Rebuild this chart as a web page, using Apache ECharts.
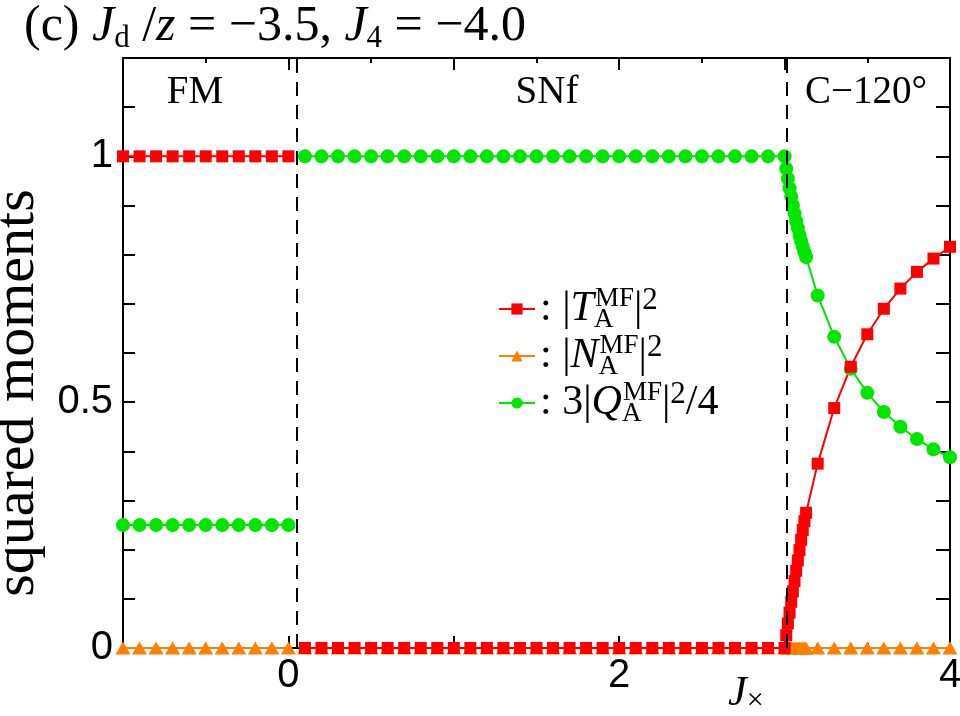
<!DOCTYPE html>
<html>
<head>
<meta charset="utf-8">
<script src="https://cdn.jsdelivr.net/npm/echarts@6/dist/echarts.min.js"></script>
<style>
html, body { margin: 0; padding: 0; background: #fff; }
#myChart { width: 960px; height: 716px; }
</style>
</head>
<body>
<div id="myChart"></div>
<script>
// J_x grid of each phase region
const jxFM = [-1, -0.9, -0.8, -0.7, -0.6, -0.5, -0.4, -0.3, -0.2, -0.1, 0];
const jxSNf = [0.1, 0.2, 0.3, 0.4, 0.5, 0.6, 0.7, 0.8, 0.9, 1.0,
               1.1, 1.2, 1.3, 1.4, 1.5, 1.6, 1.7, 1.8, 1.9, 2.0,
               2.1, 2.2, 2.3, 2.4, 2.5, 2.6, 2.7, 2.8, 2.9, 3.0];
const jxC = [3.01, 3.02, 3.03, 3.04, 3.05, 3.06, 3.07, 3.08, 3.09, 3.10, 3.11, 3.12, 3.13,
             3.2, 3.3, 3.4, 3.5, 3.6, 3.7, 3.8, 3.9, 4.0];

// |T_A^MF|^2
const tFM = [1, 1, 1, 1, 1, 1, 1, 1, 1, 1, 1];
const tSNf = [0, 0, 0, 0, 0, 0, 0, 0, 0, 0, 0, 0, 0, 0, 0, 0, 0, 0, 0, 0, 0, 0, 0, 0, 0, 0, 0, 0, 0, 0];
const tC = [0.026, 0.05, 0.072, 0.094, 0.115, 0.136, 0.157, 0.178, 0.199, 0.22, 0.24, 0.258, 0.275,
            0.375, 0.488, 0.572, 0.638, 0.690, 0.731, 0.765, 0.792, 0.816];

// |N_A^MF|^2
const nFM = [0, 0, 0, 0, 0, 0, 0, 0, 0, 0, 0];
const nSNf = [0, 0, 0, 0, 0, 0, 0, 0, 0, 0, 0, 0, 0, 0, 0, 0, 0, 0, 0, 0, 0, 0, 0, 0, 0, 0, 0, 0, 0, 0];
const nC = [0, 0, 0, 0, 0, 0, 0, 0, 0, 0, 0, 0, 0, 0, 0, 0, 0, 0, 0, 0, 0, 0];

// 3|Q_A^MF|^2/4
const qFM = [0.25, 0.25, 0.25, 0.25, 0.25, 0.25, 0.25, 0.25, 0.25, 0.25, 0.25];
const qSNf = [1, 1, 1, 1, 1, 1, 1, 1, 1, 1, 1, 1, 1, 1, 1, 1, 1, 1, 1, 1, 1, 1, 1, 1, 1, 1, 1, 1, 1, 1];
const qC = [0.975, 0.955, 0.935, 0.918, 0.9, 0.884, 0.868, 0.854, 0.84, 0.828, 0.816, 0.805, 0.795,
            0.717, 0.633, 0.568, 0.519, 0.480, 0.450, 0.425, 0.404, 0.388];

// phase boundaries (dashed lines)
const boundaries = [0.05, 3.01];
const xTickLabels = [0, 2, 4];
const yTickLabels = [0, 0.5, 1];

const SERIF = "'Liberation Serif','Times New Roman',serif";
const SANS = "'Liberation Sans',Arial,sans-serif";

function pairs(xs, ys) {
    return xs.map((x, i) => [x, ys[i]]);
}
function segments(fm, snf, c) {
    return pairs(jxFM, fm).concat(['-'], pairs(jxSNf, snf), pairs(jxC, c));
}

let myChart = echarts.init(document.getElementById('myChart'));

const axisCommon = {
    axisLine: { show: true, onZero: false, lineStyle: { color: '#000', width: 2 } },
    splitLine: { show: false }
};

const legendText = {
    T: '{c|: |}{it|T}{sb|A}{sp|MF}{c||}{sp2|2}',
    N: '{c|: |}{it|N}{sb|A}{sp|MF}{c||}{sp2|2}',
    Q: '{c|: 3|}{it|Q}{sb|A}{sp|MF}{c||}{sp2|2}{c|/4}'
};

myChart.setOption({
    animation: false,
    backgroundColor: '#fff',
    grid: { left: 123, right: 10, top: 58, bottom: 68, outerBoundsMode: 'none' },
    legend: {
        data: ['T', 'N', 'Q'],
        orient: 'vertical',
        left: 493,
        top: 280,
        itemWidth: 36,
        itemHeight: 14,
        itemGap: -1,
        formatter: name => legendText[name],
        textStyle: {
            color: '#000',
            rich: {
                c: { fontFamily: SERIF, fontSize: 42, lineHeight: 48 },
                it: { fontFamily: SERIF, fontSize: 42, fontStyle: 'italic', lineHeight: 48 },
                sb: { fontFamily: SERIF, fontSize: 27, lineHeight: 22, verticalAlign: 'bottom', width: 1 },
                sp: { fontFamily: SERIF, fontSize: 27, lineHeight: 26, verticalAlign: 'top' },
                sp2: { fontFamily: SERIF, fontSize: 31, lineHeight: 22, verticalAlign: 'top' }
            }
        }
    },
    xAxis: [
        Object.assign({
            type: 'value', position: 'bottom', min: -1, max: 4, interval: 1,
            axisTick: { show: true, inside: true, length: 12, lineStyle: { color: '#000', width: 2 } },
            minorTick: { show: true, splitNumber: 2, length: 5, lineStyle: { color: '#000', width: 2 } },
            axisLabel: {
                color: '#000', fontFamily: SANS, fontSize: 40, margin: 8,
                formatter: v => (xTickLabels.indexOf(v) >= 0 ? String(v) : '')
            }
        }, axisCommon),
        Object.assign({
            type: 'value', position: 'top', min: -1, max: 4, interval: 1,
            axisTick: { show: true, inside: true, length: 12, lineStyle: { color: '#000', width: 2 } },
            minorTick: { show: true, splitNumber: 2, length: 5, lineStyle: { color: '#000', width: 2 } },
            axisLabel: { show: false }
        }, axisCommon)
    ],
    yAxis: [
        Object.assign({
            type: 'value', position: 'left', min: 0, max: 1.2, interval: 0.1,
            name: 'squared moments',
            nameLocation: 'middle',
            nameGap: 64,
            nameTextStyle: { color: '#000', fontFamily: SERIF, fontSize: 58, padding: [0, 80, 0, 0] },
            axisTick: { show: true, inside: true, length: 12, lineStyle: { color: '#000', width: 2 } },
            axisLabel: {
                color: '#000', fontFamily: SANS, fontSize: 40, margin: 10,
                formatter: v => {
                    let hit = yTickLabels.find(t => Math.abs(t - v) < 1e-6);
                    return hit === undefined ? '' : String(hit);
                }
            }
        }, axisCommon),
        Object.assign({
            type: 'value', position: 'right', min: 0, max: 1.2, interval: 0.1,
            axisTick: { show: true, inside: true, length: 14, lineStyle: { color: '#000', width: 2 } },
            axisLabel: { show: false }
        }, axisCommon)
    ],
    series: [
        {
            name: 'Q',
            type: 'line',
            data: segments(qFM, qSNf, qC),
            connectNulls: false,
            symbol: 'circle',
            symbolSize: 14,
            color: '#00e600',
            lineStyle: { width: 2, color: '#00e600' },
            itemStyle: { color: '#00e600' }
        },
        {
            name: 'N',
            type: 'line',
            data: segments(nFM, nSNf, nC),
            connectNulls: false,
            symbol: 'triangle',
            symbolSize: [15, 13],
            color: '#ff8000',
            lineStyle: { width: 2, color: '#ff8000' },
            itemStyle: { color: '#ff8000' }
        },
        {
            name: 'T',
            type: 'line',
            data: segments(tFM, tSNf, tC),
            connectNulls: false,
            symbol: 'rect',
            symbolSize: 12,
            color: '#ff0000',
            lineStyle: { width: 2, color: '#ff0000' },
            itemStyle: { color: '#ff0000' },
            markLine: {
                silent: true,
                symbol: 'none',
                label: { show: false },
                lineStyle: { color: '#000', width: 2, type: [14, 9] },
                data: boundaries.map(b => ({ xAxis: b }))
            }
        }
    ],
    graphic: [
        {
            type: 'text', x: 24, y: 27,
            style: {
                text: '{r|(c) }{i|J}{s|d}{r| /}{i|z}{r| = −3.5, }{i|J}{s|4}{r| = −4.0}',
                textVerticalAlign: 'middle',
                fill: '#000',
                rich: {
                    r: { fontFamily: SERIF, fontSize: 50, lineHeight: 54 },
                    i: { fontFamily: SERIF, fontSize: 50, fontStyle: 'italic', lineHeight: 54 },
                    s: { fontFamily: SERIF, fontSize: 31, lineHeight: 27, verticalAlign: 'bottom' }
                }
            }
        },
        {
            type: 'text', x: 728, y: 694,
            style: {
                text: '{i|J}{s|×}',
                textVerticalAlign: 'middle',
                fill: '#000',
                rich: {
                    i: { fontFamily: SERIF, fontSize: 42, fontStyle: 'italic', lineHeight: 44 },
                    s: { fontFamily: SERIF, fontSize: 30, lineHeight: 24, verticalAlign: 'bottom' }
                }
            }
        },
        {
            type: 'text', x: 195, y: 93,
            style: { text: 'FM', font: '39px ' + SERIF, fill: '#000', textAlign: 'center', textVerticalAlign: 'middle' }
        },
        {
            type: 'text', x: 547, y: 93,
            style: { text: 'SNf', font: '39px ' + SERIF, fill: '#000', textAlign: 'center', textVerticalAlign: 'middle' }
        },
        {
            type: 'text', x: 866, y: 93,
            style: { text: 'C−120°', font: '39px ' + SERIF, fill: '#000', textAlign: 'center', textVerticalAlign: 'middle' }
        }
    ]
});
</script>
</body>
</html>
